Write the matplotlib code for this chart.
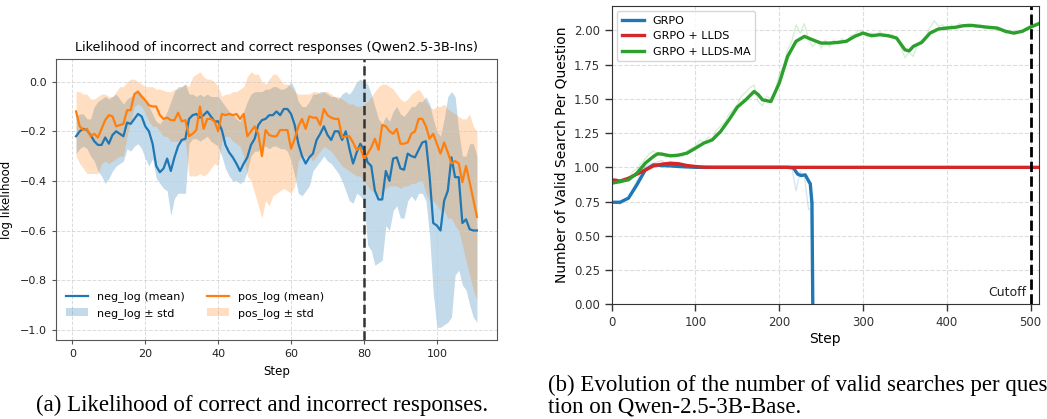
import numpy as np
import matplotlib
matplotlib.use("Agg")
import matplotlib.pyplot as plt

# ---------------- data: left panel ----------------
steps = list(range(1, 112))
neg_mean = [-0.22, -0.20, -0.19, -0.195, -0.215, -0.24, -0.255, -0.255, -0.225, -0.25,
            -0.215, -0.20, -0.21, -0.22, -0.165, -0.17, -0.15, -0.13, -0.14, -0.18,
            -0.20, -0.25, -0.34, -0.365, -0.35, -0.31, -0.36, -0.305, -0.26, -0.235,
            -0.23, -0.15, -0.135, -0.13, -0.145, -0.135, -0.12, -0.14, -0.16, -0.16,
            -0.195, -0.255, -0.285, -0.305, -0.33, -0.36, -0.33, -0.305, -0.255, -0.23,
            -0.175, -0.155, -0.15, -0.135, -0.135, -0.12, -0.135, -0.11, -0.11, -0.13,
            -0.175, -0.25, -0.30, -0.33, -0.305, -0.29, -0.235, -0.21, -0.18, -0.215,
            -0.235, -0.20, -0.20, -0.235, -0.20, -0.27, -0.33, -0.285, -0.25, -0.275,
            -0.325, -0.34, -0.44, -0.475, -0.475, -0.36, -0.40, -0.31, -0.305, -0.35,
            -0.355, -0.29, -0.30, -0.305, -0.275, -0.245, -0.24, -0.38, -0.57, -0.58,
            -0.60, -0.48, -0.44, -0.305, -0.385, -0.385, -0.57, -0.555, -0.595, -0.60, -0.60]
neg_hi = [-0.14, -0.13, -0.13, -0.15, -0.15, -0.10, -0.08, -0.07, -0.06, -0.07,
          -0.06, -0.05, -0.07, -0.09, -0.07, -0.06, -0.05, -0.04, -0.05, -0.07,
          -0.10, -0.13, -0.16, -0.17, -0.15, -0.12, -0.08, -0.04, -0.02, -0.02,
          -0.01, -0.05, -0.05, -0.06, -0.05, -0.06, -0.05, -0.06, -0.06, -0.06,
          -0.08, -0.10, -0.12, -0.13, -0.15, -0.16, -0.12, -0.08, -0.05, -0.04,
          -0.04, -0.04, -0.03, -0.03, -0.02, -0.02, -0.03, -0.03, -0.02, 0.00,
          -0.03, -0.08, -0.10, -0.10, -0.08, -0.05, -0.05, -0.04, -0.04, -0.05,
          -0.06, -0.06, -0.07, -0.05, -0.04, -0.05, -0.03, 0.00, 0.01, 0.00,
          -0.01, -0.05, -0.10, -0.15, -0.17, -0.14, -0.16, -0.12, -0.10, -0.13,
          -0.14, -0.12, -0.10, -0.10, -0.08, -0.08, -0.06, -0.09, -0.15, -0.20,
          -0.22, -0.15, -0.06, -0.04, -0.06, -0.20, -0.30, -0.30, -0.25, -0.25, -0.30]
neg_lo = [-0.29, -0.27, -0.26, -0.27, -0.30, -0.32, -0.36, -0.38, -0.41, -0.39,
          -0.36, -0.34, -0.33, -0.32, -0.27, -0.28, -0.26, -0.25, -0.27, -0.31,
          -0.34, -0.31, -0.39, -0.41, -0.43, -0.44, -0.54, -0.47, -0.45, -0.45,
          -0.45, -0.25, -0.23, -0.23, -0.24, -0.23, -0.22, -0.24, -0.25, -0.26,
          -0.30, -0.35, -0.38, -0.40, -0.40, -0.41, -0.40, -0.36, -0.30, -0.28,
          -0.28, -0.26, -0.26, -0.27, -0.26, -0.26, -0.27, -0.27, -0.28, -0.32,
          -0.38, -0.45, -0.46, -0.44, -0.42, -0.36, -0.34, -0.32, -0.30, -0.32,
          -0.33, -0.35, -0.37, -0.40, -0.44, -0.48, -0.49, -0.45, -0.46, -0.48,
          -0.66, -0.68, -0.74, -0.73, -0.72, -0.58, -0.60, -0.52, -0.50, -0.55,
          -0.55, -0.48, -0.46, -0.48, -0.45, -0.45, -0.48, -0.62, -0.85, -0.99,
          -0.99, -0.98, -0.97, -0.95, -0.78, -0.76, -0.82, -0.84, -0.90, -0.95, -0.97]
pos_mean = [-0.12, -0.18, -0.195, -0.19, -0.22, -0.21, -0.225, -0.19, -0.155, -0.135,
            -0.14, -0.18, -0.175, -0.17, -0.115, -0.115, -0.05, -0.04, -0.06, -0.075,
            -0.095, -0.10, -0.10, -0.135, -0.15, -0.145, -0.155, -0.155, -0.125, -0.16,
            -0.155, -0.22, -0.21, -0.195, -0.10, -0.19, -0.15, -0.15, -0.16, -0.20,
            -0.13, -0.135, -0.13, -0.135, -0.13, -0.15, -0.13, -0.22, -0.20, -0.18,
            -0.21, -0.30, -0.195, -0.215, -0.22, -0.22, -0.195, -0.195, -0.195, -0.27,
            -0.23, -0.18, -0.15, -0.19, -0.14, -0.145, -0.145, -0.175, -0.11, -0.135,
            -0.145, -0.15, -0.15, -0.225, -0.22, -0.22, -0.245, -0.275, -0.265, -0.31,
            -0.29, -0.265, -0.23, -0.275, -0.175, -0.18, -0.20, -0.21, -0.19, -0.25,
            -0.25, -0.245, -0.21, -0.20, -0.15, -0.15, -0.18, -0.23, -0.21, -0.25,
            -0.29, -0.245, -0.285, -0.33, -0.32, -0.33, -0.405, -0.34, -0.405, -0.475, -0.545]
pos_hi = [-0.04, -0.04, -0.05, -0.05, -0.07, -0.07, -0.06, -0.05, -0.05, -0.06,
          -0.06, -0.04, -0.02, -0.02, 0.00, 0.01, 0.01, 0.00, -0.01, -0.02,
          -0.02, -0.02, -0.03, -0.03, -0.035, -0.04, -0.04, -0.03, -0.03, -0.02,
          -0.01, -0.02, 0.02, 0.03, 0.04, 0.02, 0.01, 0.01, 0.00, -0.02,
          -0.06, -0.05, -0.05, -0.04, -0.04, -0.03, -0.02, 0.02, 0.04, 0.03,
          0.03, 0.00, -0.01, 0.01, 0.03, 0.03, 0.01, -0.01, -0.01, -0.02,
          -0.04, -0.05, -0.05, -0.05, -0.05, -0.04, -0.04, -0.05, -0.04, -0.04,
          -0.05, -0.06, -0.06, -0.07, -0.08, -0.09, -0.09, -0.10, -0.10, -0.09,
          -0.08, -0.06, -0.04, -0.02, -0.01, -0.01, -0.02, -0.03, -0.05, -0.07,
          -0.08, -0.07, -0.05, -0.04, -0.03, -0.05, -0.08, -0.10, -0.11, -0.10,
          -0.10, -0.09, -0.11, -0.12, -0.13, -0.14, -0.15, -0.15, -0.13, -0.18, -0.20]
pos_lo = [-0.30, -0.33, -0.35, -0.37, -0.37, -0.37, -0.37, -0.33, -0.32, -0.33,
          -0.32, -0.31, -0.30, -0.30, -0.22, -0.16, -0.10, -0.09, -0.10, -0.13,
          -0.16, -0.18, -0.18, -0.20, -0.22, -0.22, -0.24, -0.24, -0.24, -0.24,
          -0.24, -0.38, -0.38, -0.38, -0.37, -0.38, -0.37, -0.35, -0.33, -0.34,
          -0.24, -0.22, -0.22, -0.24, -0.25, -0.26, -0.30, -0.38, -0.40, -0.45,
          -0.50, -0.55, -0.48, -0.50, -0.46, -0.45, -0.44, -0.43, -0.44, -0.45,
          -0.42, -0.32, -0.30, -0.30, -0.30, -0.32, -0.30, -0.28, -0.26, -0.27,
          -0.28, -0.30, -0.32, -0.34, -0.35, -0.36, -0.37, -0.38, -0.38, -0.40,
          -0.42, -0.44, -0.44, -0.46, -0.45, -0.43, -0.42, -0.42, -0.42, -0.43,
          -0.42, -0.42, -0.41, -0.41, -0.40, -0.40, -0.45, -0.48, -0.48, -0.50,
          -0.52, -0.52, -0.55, -0.55, -0.58, -0.60, -0.66, -0.72, -0.78, -0.84, -0.88]
cutoff_left = 80

# ---------------- data: right panel ----------------
grpo_x = [0, 10, 20, 30, 40, 50, 60, 70, 80, 90, 100, 120, 150, 180, 210, 217, 222, 226, 231, 235, 237, 239, 240]
grpo = [0.745, 0.745, 0.775, 0.872, 0.98, 1.018, 1.013, 1.011, 1.006, 1.003, 1.0, 1.0, 1.0, 1.0, 1.0,
        0.995, 0.95, 0.94, 0.945, 0.90, 0.88, 0.74, 0.0]
llds_x = [0, 10, 20, 30, 40, 50, 60, 70, 80, 90, 100, 110, 120, 200, 300, 400, 510]
llds = [0.909, 0.90, 0.92, 0.95, 0.98, 1.011, 1.023, 1.03, 1.026, 1.013, 1.006, 1.001, 1.0, 1.0, 1.0, 1.0, 1.0]
ma_x = [0, 10, 20, 25, 30, 40, 50, 55, 60, 70, 80, 90, 100, 110, 120, 130, 140, 150, 160, 170, 175,
        180, 190, 200, 210, 220, 230, 240, 250, 260, 270, 280, 290, 300, 310, 320, 330, 340, 350,
        355, 360, 370, 380, 390, 400, 410, 420, 430, 440, 450, 460, 470, 480, 490, 500, 510]
ma = [0.884, 0.896, 0.909, 0.933, 0.957, 1.03, 1.08, 1.099, 1.096, 1.084, 1.089, 1.104, 1.14, 1.177,
      1.20, 1.262, 1.347, 1.44, 1.493, 1.554, 1.53, 1.493, 1.48, 1.615, 1.81, 1.92, 1.956, 1.93,
      1.907, 1.907, 1.912, 1.92, 1.956, 1.98, 1.961, 1.968, 1.961, 1.944, 1.858, 1.85, 1.883, 1.912,
      1.98, 2.01, 2.017, 2.022, 2.034, 2.036, 2.029, 2.022, 2.017, 1.993, 1.98, 1.993, 2.024, 2.049]
raw_x = list(range(0, 515, 5))
ma_raw = [0.87, 0.90, 0.88, 0.92, 0.90, 0.97, 0.99, 1.03, 1.06, 1.10, 1.12, 1.09, 1.11, 1.07, 1.10,
          1.07, 1.10, 1.08, 1.12, 1.14, 1.15, 1.20, 1.18, 1.22, 1.21, 1.27, 1.30, 1.33, 1.39, 1.42,
          1.46, 1.52, 1.55, 1.58, 1.60, 1.48, 1.45, 1.52, 1.50, 1.56, 1.68, 1.74, 1.86, 1.92, 2.04,
          1.98, 2.05, 1.93, 1.88, 1.92, 1.87, 1.93, 1.88, 1.93, 1.90, 1.94, 1.91, 1.96, 1.97, 2.00,
          1.99, 1.95, 1.98, 1.96, 1.99, 1.97, 1.95, 1.97, 1.93, 1.88, 1.80, 1.84, 1.81, 1.90, 1.93,
          1.96, 2.02, 2.07, 2.03, 2.04, 2.00, 2.04, 2.02, 2.05, 2.03, 2.05, 2.04, 2.02, 2.04, 2.01,
          2.03, 2.02, 2.00, 2.01, 1.98, 1.99, 1.97, 1.99, 2.00, 2.02, 2.04, 2.05, 2.06]
grpo_raw_x = [0, 5, 10, 15, 20, 25, 30, 35, 40, 45, 50, 55, 60, 80, 100, 150, 200, 215, 220, 225, 230, 235, 238, 240]
grpo_raw = [0.74, 0.75, 0.73, 0.76, 0.78, 0.84, 0.90, 0.97, 1.01, 1.02, 1.03, 1.01, 1.01, 1.0, 1.0, 1.0,
            1.0, 1.0, 0.83, 0.97, 0.93, 0.69, 0.70, 0.0]
llds_raw_x = [0, 5, 10, 15, 20, 25, 30, 35, 40, 45, 50, 55, 60, 65, 70, 75, 80, 90, 100, 120, 510]
llds_raw = [0.90, 0.92, 0.89, 0.91, 0.93, 0.94, 0.96, 0.97, 1.00, 1.01, 1.03, 1.04, 1.05, 1.02, 1.04,
            1.02, 1.03, 1.01, 1.0, 1.0, 1.0]
cutoff_right = 500

BLUE, ORANGE, GREEN, RED = "#1f77b4", "#ff7f0e", "#2ca02c", "#d62728"

fig = plt.figure(figsize=(10.47, 4.19), dpi=100)

# ---------------- left panel ----------------
ax1 = fig.add_axes([56 / 1047, 79 / 419, 441 / 1047, 281 / 419])
b1 = ax1.fill_between(steps, neg_lo, neg_hi, color=BLUE, alpha=0.27, lw=0, label="neg_log \u00b1 std")
b2 = ax1.fill_between(steps, pos_lo, pos_hi, color=ORANGE, alpha=0.25, lw=0, label="pos_log \u00b1 std")
l1, = ax1.plot(steps, neg_mean, color=BLUE, lw=1.6, label="neg_log (mean)")
l2, = ax1.plot(steps, pos_mean, color=ORANGE, lw=1.6, label="pos_log (mean)")
ax1.axvline(cutoff_left, color="#333333", ls="--", lw=1.8)
ax1.set_title("Likelihood of incorrect and correct responses (Qwen2.5-3B-Ins)", fontsize=9.2, pad=6)
ax1.set_xlabel("Step", fontsize=8.5)
ax1.set_ylabel("log likelihood", fontsize=8.5)
ax1.yaxis.set_label_coords(-0.098, 0.5)
ax1.tick_params(labelsize=8, colors="#222222", length=3, color="#555555")
ax1.grid(True, ls="--", lw=0.7, color="#cccccc", alpha=0.7)
ax1.set_xticks([0, 20, 40, 60, 80, 100])
ax1.set_yticks([0.0, -0.2, -0.4, -0.6, -0.8, -1.0])
for sp in ax1.spines.values():
    sp.set_color("#555555")
ax1.legend([l1, b1, l2, b2], [l1.get_label(), b1.get_label(), l2.get_label(), b2.get_label()],
           loc="lower left", ncol=2, frameon=False, fontsize=8, handletextpad=0.8,
           columnspacing=2.0, bbox_to_anchor=(0.0, 0.04))

# ---------------- right panel ----------------
ax2 = fig.add_axes([611.7 / 1047, 114.7 / 419, 427.3 / 1047, 298.6 / 419])
ax2.plot(grpo_raw_x, grpo_raw, color=BLUE, lw=1, alpha=0.18)
ax2.plot(llds_raw_x, llds_raw, color=RED, lw=1, alpha=0.18)
ax2.plot(raw_x, ma_raw, color=GREEN, lw=1, alpha=0.18)
ax2.plot(grpo_x, grpo, color=BLUE, lw=2.4, label="GRPO")
ax2.plot(llds_x, llds, color=RED, lw=2.4, label="GRPO + LLDS")
ax2.plot(ma_x, ma, color=GREEN, lw=2.4, label="GRPO + LLDS-MA")
ax2.axvline(cutoff_right, color="black", ls="--", lw=2)
ax2.text(cutoff_right - 5, 0.04, "Cutoff", ha="right", va="bottom", fontsize=9, color="#222222")
ax2.set_xlim(0, 510)
ax2.set_ylim(0, 2.18)
ax2.set_xticks([0, 100, 200, 300, 400, 500])
ax2.set_yticks([0.0, 0.25, 0.5, 0.75, 1.0, 1.25, 1.5, 1.75, 2.0])
ax2.yaxis.set_major_formatter(matplotlib.ticker.FormatStrFormatter("%.2f"))
ax2.set_xlabel("Step", fontsize=10, labelpad=2)
ax2.set_ylabel("Number of Valid Search Per Question", fontsize=10)
ax2.tick_params(labelsize=8.5, colors="#333333", direction="out", length=5, width=1, color="#333333")
ax2.grid(True, ls="--", lw=0.8, color="#dddddd")
for sp in ax2.spines.values():
    sp.set_color("#333333")
ax2.legend(loc="upper left", fontsize=8, frameon=True, edgecolor="#cccccc", fancybox=True)

# ---------------- captions ----------------
fig.text(262 / 1047, 1 - 405 / 419, "(a) Likelihood of correct and incorrect responses.",
         ha="center", va="center", fontsize=16.5, family="Liberation Serif")
fig.text(548 / 1047, 1 - 385 / 419, "(b) Evolution of the number of valid searches per ques-",
         ha="left", va="center", fontsize=16.5, family="Liberation Serif")
fig.text(548 / 1047, 1 - 407 / 419, "tion on Qwen-2.5-3B-Base.",
         ha="left", va="center", fontsize=16.5, family="Liberation Serif")

fig.savefig("out.png", dpi=100)
